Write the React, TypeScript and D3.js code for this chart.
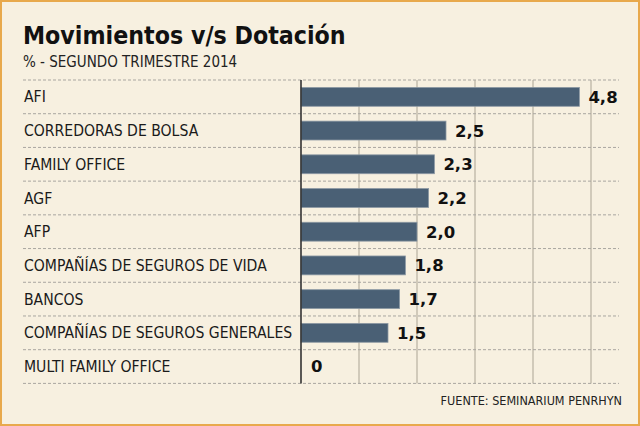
import React from "react";
import * as d3 from "d3";

const categories = [
  "AFI",
  "CORREDORAS DE BOLSA",
  "FAMILY OFFICE",
  "AGF",
  "AFP",
  "COMPAÑÍAS DE SEGUROS DE VIDA",
  "BANCOS",
  "COMPAÑÍAS DE SEGUROS GENERALES",
  "MULTI FAMILY OFFICE",
];
const values = [4.8, 2.5, 2.3, 2.2, 2.0, 1.8, 1.7, 1.5, 0];
const gridTicks = [1, 2, 3, 4, 5];
const title = "Movimientos v/s Dotación";
const subtitle = "% - SEGUNDO TRIMESTRE 2014";
const source = "FUENTE: SEMINARIUM PENRHYN";

const W = 640;
const H = 426;
const FONT = "'DejaVu Sans Condensed', 'DejaVu Sans', sans-serif";
const FONT_VAL = "'DejaVu Sans', sans-serif";

const locale = d3.formatLocale({ decimal: ",", thousands: ".", grouping: [3], currency: ["$", ""] });
const fmt = (v: number) => (v === 0 ? "0" : locale.format(".1f")(v));

export default function App() {
  const top = 80;
  const bottom = 383.4;
  const x = d3.scaleLinear().domain([0, 5]).range([301, 591]);
  const y = d3
    .scaleBand<string>()
    .domain(categories)
    .range([top, bottom])
    .paddingInner(0.44)
    .paddingOuter(0.22);
  const step = y.step();
  const rowLines = categories.map((c) => (y(c) as number) - step * 0.22).concat([bottom]);

  return (
    <svg
      width={W}
      height={H}
      style={{ position: "fixed", left: 0, top: 0, display: "block" }}
      fontFamily={FONT}
    >
      <rect x={0} y={0} width={W} height={H} fill="#F7F0E0" />
      <rect x={1} y={1} width={W - 2} height={H - 2} fill="none" stroke="#E8A94C" strokeWidth={2} />
      <text x={23} y={43.5} fontSize={24.7} fontWeight="bold" fill="#111">
        {title}
      </text>
      <text x={23} y={66.5} fontSize={15} fill="#222">
        {subtitle}
      </text>
      {gridTicks.map((t) => (
        <line key={t} x1={x(t)} x2={x(t)} y1={top} y2={bottom} stroke="#BDB5A6" strokeWidth={1.3} />
      ))}
      {rowLines.map((ly, i) => (
        <line
          key={i}
          x1={23}
          x2={619}
          y1={ly}
          y2={ly}
          stroke="#A9A6A0"
          strokeWidth={1}
          strokeDasharray="3,2"
        />
      ))}
      {categories.map((c, i) => {
        const cy = (y(c) as number) + y.bandwidth() / 2;
        return (
          <g key={c}>
            <text x={24} y={cy} dy="0.36em" fontSize={15.6} fill="#1a1a1a">
              {c}
            </text>
            {values[i] > 0 && (
              <rect
                x={x(0)}
                y={y(c) as number}
                width={x(values[i]) - x(0)}
                height={y.bandwidth()}
                fill="#4A6075"
                stroke="#8D99A4"
                strokeWidth={0.8}
              />
            )}
            <text
              x={x(values[i]) + (values[i] > 0 ? 9 : 10)}
              y={cy}
              dy="0.36em"
              fontSize={16.5}
              fontWeight="bold"
              fontFamily={FONT_VAL}
              fill="#111"
            >
              {fmt(values[i])}
            </text>
          </g>
        );
      })}
      <line x1={x(0)} x2={x(0)} y1={top} y2={bottom} stroke="#333" strokeWidth={1.6} />
      <text x={622} y={405} textAnchor="end" fontSize={12.5} fill="#222">
        {source}
      </text>
    </svg>
  );
}
